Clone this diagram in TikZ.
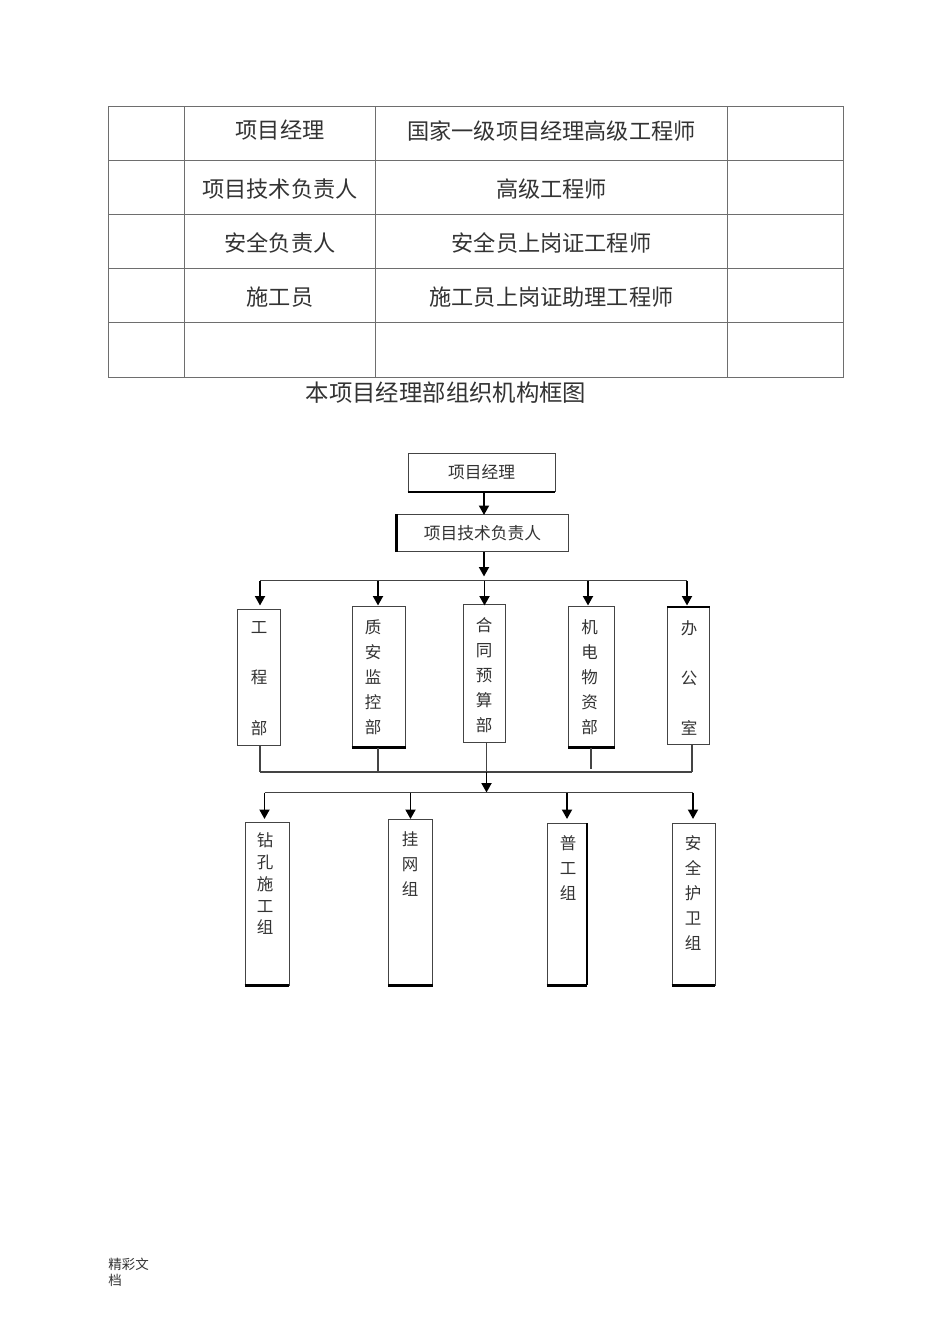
\documentclass[tikz,border=0pt]{standalone}
\usepackage{xcolor}
\usepackage{fontspec}
\usepackage{tikz}
\usetikzlibrary{arrows.meta}
\setmainfont{Noto Sans CJK SC}
\definecolor{linecolor}{HTML}{444444}
\definecolor{gridcolor}{HTML}{6e6e6e}
\definecolor{textcolor}{HTML}{333333}
\tikzset{
  cell/.style={text=textcolor, font=\fontsize{0.444cm}{0.5cm}\selectfont},
  headtext/.style={text=textcolor, font=\fontsize{0.467cm}{0.5cm}\selectfont},
  foot/.style={anchor=west, inner sep=0pt, text=textcolor, font=\fontsize{0.27cm}{0.3cm}\selectfont},
  topbox/.style={draw=linecolor, line width=0.55pt, minimum height=0.75cm, inner sep=0pt, text=textcolor, font=\fontsize{0.335cm}{0.4cm}\selectfont},
  colbox/.style={draw=linecolor, line width=0.55pt, inner sep=0pt},
  coltext/.style={align=center, inner sep=0pt, text=textcolor},
  bus/.style={draw=linecolor, line width=0.8pt},
  arr/.style={draw=black, line width=1.1pt, -{Triangle[width=0.2cm, length=0.19cm]}},
  heavy/.style={draw=black, line width=1.2pt}
}
\newcommand{\colchars}[1]{\fontsize{0.33cm}{#1}\selectfont}
\begin{document}
\begin{tikzpicture}[x=0.02cm, y=-0.02cm]%
\useasboundingbox[fill=white] (0,0) rectangle (950,1344);%
% table
\draw[gridcolor, line width=0.5pt] (108,106.5) rectangle (843.5,377.5);%
\foreach \ypos in {160.5,214.5,268.5,322.5} {\draw[gridcolor, line width=0.5pt] (108,\ypos) -- (843.5,\ypos);}%
\foreach \xpos in {184.5,375.5,727} {\draw[gridcolor, line width=0.5pt] (\xpos,106.5) -- (\xpos,377.5);}%
\node[cell] (rolea) at (280,130) {项目经理};%
\node[cell] (quala) at (551.5,131) {国家一级项目经理高级工程师};%
\node[cell] (roleb) at (280,189) {项目技术负责人};%
\node[cell] (qualb) at (551.5,189) {高级工程师};%
\node[cell] (rolec) at (280,243) {安全负责人};%
\node[cell] (qualc) at (551.5,243) {安全员上岗证工程师};%
\node[cell] (roled) at (280,297) {施工员};%
\node[cell] (quald) at (551.5,297) {施工员上岗证助理工程师};%
\node[headtext] (title) at (446,393) {本项目经理部组织机构框图};%
% top boxes
\node[topbox, minimum width=2.94cm] (manager) at (481.5,472.5) {\raisebox{-1pt}{项目经理}};%
\node[topbox, minimum width=3.42cm] (techlead) at (482.5,533) {\raisebox{-0.5pt}{项目技术负责人}};%
\draw[heavy] (manager.south west) -- (manager.south east);%
\draw[heavy] (techlead.south west) -- (techlead.north west);%
% departments
\node[colbox, minimum width=0.86cm, minimum height=2.72cm] (gcb) at (258.5,677) {};%
\node[colbox, minimum width=1.07cm, minimum height=2.81cm] (zab) at (378.8,676.8) {};%
\node[colbox, minimum width=0.84cm, minimum height=2.75cm] (htb) at (484,673.3) {};%
\node[colbox, minimum width=0.92cm, minimum height=2.81cm] (jdb) at (591.5,676.8) {};%
\node[colbox, minimum width=0.83cm, minimum height=2.75cm] (bgs) at (688.3,675.8) {};%
\draw[heavy] (zab.south west) -- (zab.south east);%
\draw[heavy] (jdb.south west) -- (jdb.south east);%
\draw[heavy] (bgs.north west) -- (bgs.north east);%
\node[coltext, font=\colchars{1.01cm}] (gcbtext) at (259,678.5) {工\\程\\部};%
\node[coltext, font=\colchars{0.5cm}] (zabtext) at (373,677) {质\\安\\监\\控\\部};%
\node[coltext, font=\colchars{0.5cm}] (htbtext) at (484,675) {合\\同\\预\\算\\部};%
\node[coltext, font=\colchars{0.5cm}] (jdbtext) at (589.5,677) {机\\电\\物\\资\\部};%
\node[coltext, font=\colchars{1cm}] (bgstext) at (689,678) {办\\公\\室};%
% groups
\node[colbox, minimum width=0.88cm, minimum height=3.26cm] (zkz) at (267,903.5) {};%
\node[colbox, minimum width=0.88cm, minimum height=3.32cm] (gwz) at (410.5,902) {};%
\node[colbox, minimum width=0.79cm, minimum height=3.24cm] (pgz) at (566.8,904) {};%
\node[colbox, minimum width=0.86cm, minimum height=3.24cm] (aqz) at (693.5,904) {};%
\foreach \grp in {zkz,gwz,pgz,aqz} {\draw[heavy] (\grp.south west) -- (\grp.south east);}%
\draw[heavy] (pgz.south east) -- (pgz.north east);%
\node[coltext, font=\colchars{0.435cm}] (zkztext) at (265,884) {钻\\孔\\施\\工\\组};%
\node[coltext, font=\colchars{0.5cm}] (gwztext) at (410,864) {挂\\网\\组};%
\node[coltext, font=\colchars{0.5cm}] (pgztext) at (568,868) {普\\工\\组};%
\node[coltext, font=\colchars{0.5cm}] (aqztext) at (693,893) {安\\全\\护\\卫\\组};%
% upper connectors
\coordinate (busup) at (484,580.5);%
\coordinate (bustip) at (484,576.5);%
\coordinate (gctip) at (260,605.5);%
\coordinate (zatip) at (378,605.5);%
\coordinate (httip) at (484.5,605.5);%
\coordinate (jdtip) at (588,605.5);%
\coordinate (bgtip) at (687,605.5);%
\coordinate (mgtip) at (484,515);%
\draw[arr] (mgtip |- manager.south) -- (mgtip);%
\draw[arr] (bustip |- techlead.south) -- (bustip);%
\draw[bus] (gctip |- busup) -- (bgtip |- busup);%
\foreach \tipname in {gctip,zatip,httip,jdtip,bgtip} {\draw[arr] (\tipname |- busup) -- (\tipname);}%
% lower connectors
\coordinate (busmid) at (486.5,772);%
\coordinate (buslow) at (486.5,792.5);%
\coordinate (gcfoot) at (260,772);%
\coordinate (zafoot) at (378,772);%
\coordinate (jdfoot) at (591,769);%
\coordinate (bgfoot) at (692,772);%
\draw[bus] (gcb.south -| gcfoot) -- (gcfoot);%
\draw[bus] (zab.south -| zafoot) -- (zafoot);%
\draw[bus] (jdb.south -| jdfoot) -- (jdfoot);%
\draw[bus] (bgs.south -| bgfoot) -- (bgfoot);%
\draw[bus] (gcfoot) -- (bgfoot);%
\draw[bus] (htb.south -| busmid) -- (busmid);%
\draw[arr] (busmid) -- (buslow);%
\coordinate (zktip) at (264.5,819);%
\coordinate (gwtip) at (410.5,819);%
\coordinate (pgtip) at (567,819);%
\coordinate (aqtip) at (693,819);%
\draw[bus] (zktip |- buslow) -- (aqtip |- buslow);%
\foreach \tipname in {zktip,gwtip,pgtip,aqtip} {\draw[arr] (\tipname |- buslow) -- (\tipname);}%
% footer
\node[foot] (foota) at (108,1264) {精彩文};%
\node[foot] (footb) at (108,1280) {档};%
\end{tikzpicture}
\end{document}
